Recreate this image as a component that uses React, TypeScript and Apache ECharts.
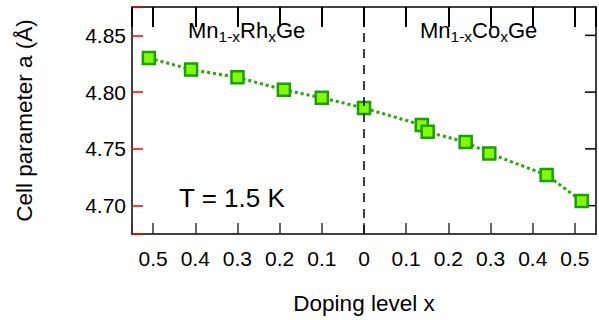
import React, { useEffect, useRef } from "react";
import * as echarts from "echarts";

// Mn(1-x)Rh(x)Ge : doping level x and cell parameter a (Å)
const rhDoping = [0.51, 0.41, 0.3, 0.19, 0.1];
const rhCell = [4.83, 4.82, 4.813, 4.802, 4.795];
// pure MnGe
const mnGeDoping = [0];
const mnGeCell = [4.786];
// Mn(1-x)Co(x)Ge
const coDoping = [0.137, 0.151, 0.241, 0.297, 0.433, 0.516];
const coCell = [4.771, 4.765, 4.756, 4.746, 4.727, 4.704];

const xRange = [-0.55, 0.55];
const yRange = [4.675, 4.875];
const yTicks = [4.7, 4.75, 4.8, 4.85];

const FONT = "Liberation Sans, Arial, sans-serif";

export default function App() {
  const ref = useRef<HTMLDivElement>(null);
  useEffect(() => {
    if (!ref.current) return;
    const chart = echarts.init(ref.current, null, { renderer: "svg" });
    const data: number[][] = [];
    rhDoping.forEach((x, i) => data.push([-x, rhCell[i]]));
    mnGeDoping.forEach((x, i) => data.push([x, mnGeCell[i]]));
    coDoping.forEach((x, i) => data.push([x, coCell[i]]));

    const isMult = (v: number, step: number) => Math.abs(v / step - Math.round(v / step)) < 1e-6;
    const fmtX = (v: number) => {
      if (!isMult(v, 0.1)) return "";
      const a = Math.abs(v);
      if (a < 1e-9) return "0";
      return a.toFixed(1);
    };
    const fmtY = (v: number) => (isMult(v, 0.05) ? v.toFixed(2) : "");
    const axisLineStyle = () => ({ color: "#000", width: 1.5 });

    chart.setOption({
      animation: false,
      textStyle: { fontFamily: FONT },
      grid: { left: 132, top: 7, right: 3, bottom: 81, show: false },
      xAxis: [
        {
          type: "value",
          min: xRange[0],
          max: xRange[1],
          splitNumber: 10,
          splitLine: { show: false },
          position: "bottom",
          axisLine: { show: true, onZero: false, lineStyle: axisLineStyle() },
          axisTick: { show: true, inside: true, length: 11, lineStyle: { color: "#333", width: 1.5 } },
          name: "Doping level x",
          nameLocation: "middle",
          nameGap: 58,
          nameTextStyle: { fontSize: 22.5, color: "#000", fontFamily: FONT },
          axisLabel: { formatter: fmtX, fontSize: 21, color: "#000", margin: 14, fontFamily: FONT },
        },
        {
          type: "value",
          min: xRange[0],
          max: xRange[1],
          splitNumber: 10,
          splitLine: { show: false },
          position: "top",
          axisLine: { show: true, onZero: false, lineStyle: axisLineStyle() },
          axisTick: { show: true, inside: true, length: 20, lineStyle: { color: "#000", width: 2 } },
          axisLabel: { show: false },
        },
      ],
      yAxis: [
        {
          type: "value",
          min: yRange[0],
          max: yRange[1],
          splitNumber: 4,
          position: "left",
          name: "Cell parameter a (Å)",
          nameLocation: "middle",
          nameGap: 96,
          nameTextStyle: { fontSize: 22.5, color: "#000", fontFamily: FONT },
          axisLine: { show: true, onZero: false, lineStyle: axisLineStyle() },
          splitLine: { show: false },
          axisTick: { show: true, inside: true, length: 11, lineStyle: { color: "red", width: 1.5 } },
          axisLabel: { formatter: fmtY, fontSize: 21, color: "#000", margin: 6, fontFamily: FONT },
        },
        {
          type: "value",
          min: yRange[0],
          max: yRange[1],
          position: "right",
          axisLine: { show: true, onZero: false, lineStyle: axisLineStyle() },
          splitLine: { show: false },
          axisTick: { show: false },
          axisLabel: { show: false },
        },
      ],
      series: [
        {
          type: "custom",
          silent: true,
          data: yTicks.map((v) => [xRange[1], v]),
          renderItem: (params: any, api: any) => {
            const p = api.coord([api.value(0), api.value(1)]);
            return {
              type: "line",
              shape: { x1: p[0], y1: p[1], x2: p[0] - 11, y2: p[1] },
              style: { stroke: "#000", lineWidth: 1.5 },
            };
          },
        },
        {
          type: "line",
          data,
          symbol: "rect",
          symbolSize: 12,
          z: 3,
          lineStyle: { color: "#22aa00", width: 3, type: [3, 3] },
          itemStyle: { color: "#80ff00", borderColor: "#1a9e00", borderWidth: 2.5 },
          markLine: {
            silent: true,
            symbol: "none",
            label: { show: false },
            lineStyle: { color: "#000", type: [9, 7], width: 1.5 },
            data: [{ xAxis: 0 }],
          },
        },
      ],
      graphic: [
        {
          type: "text",
          left: 179,
          top: 185,
          style: { text: "T = 1.5 K", fontSize: 26, fill: "#000", fontFamily: FONT },
        },
        {
          type: "text",
          left: 188,
          top: 19,
          style: {
            text: "Mn{s|1-x}Rh{s|x}Ge",
            fontSize: 22,
            fill: "#000",
            fontFamily: FONT,
            rich: { s: { fontSize: 15.5, padding: [12, 0, 0, 0], fontFamily: FONT, fill: "#000" } },
          },
        },
        {
          type: "text",
          left: 420,
          top: 19,
          style: {
            text: "Mn{s|1-x}Co{s|x}Ge",
            fontSize: 22,
            fill: "#000",
            fontFamily: FONT,
            rich: { s: { fontSize: 15.5, padding: [12, 0, 0, 0], fontFamily: FONT, fill: "#000" } },
          },
        },
      ],
    });
    return () => chart.dispose();
  }, []);
  return (
    <div
      ref={ref}
      style={{ position: "absolute", left: 0, top: 0, width: 599, height: 320 }}
    />
  );
}
